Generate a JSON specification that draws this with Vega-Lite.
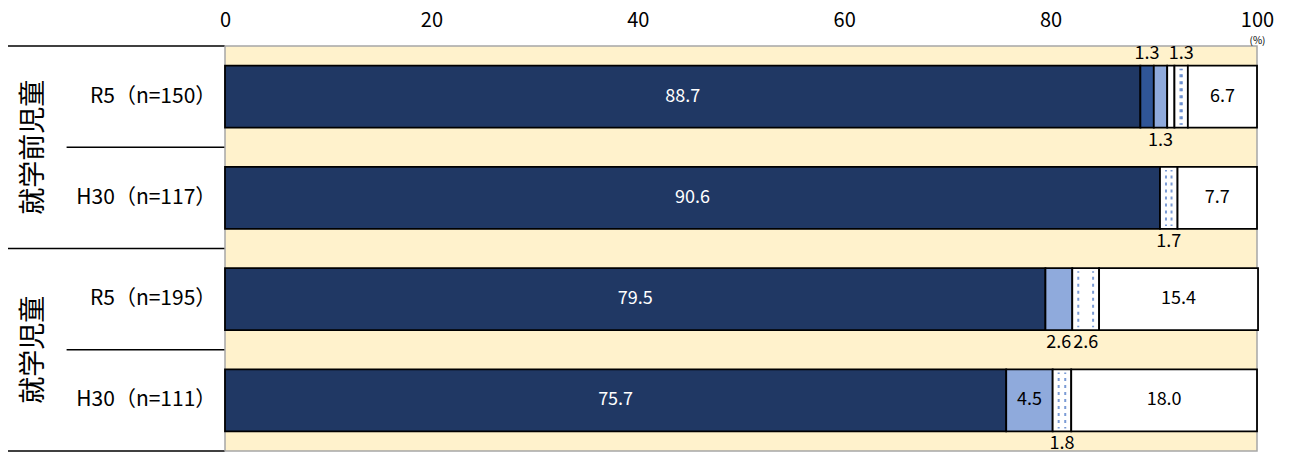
{
  "$schema": "https://vega.github.io/schema/vega-lite/v6.json",
  "autosize": {"type": "pad"},
  "padding": {"left": 7, "top": 9, "right": 0, "bottom": 0},
  "background": "white",
  "bounds": "flush",
  "config": {"font": "Noto Sans CJK JP", "view": {"stroke": null}, "concat": {"spacing": 0}},
  "spacing": 0,
  "datasets": {
    "bars": [
      {"row": "R5（n=150）", "cat": "c1", "value": 88.7},
      {"row": "R5（n=150）", "cat": "c2", "value": 1.3},
      {"row": "R5（n=150）", "cat": "c3", "value": 1.3},
      {"row": "R5（n=150）", "cat": "c4", "value": 0.7},
      {"row": "R5（n=150）", "cat": "c5", "value": 1.3},
      {"row": "R5（n=150）", "cat": "c6", "value": 6.7},
      {"row": "H30（n=117）", "cat": "c1", "value": 90.6},
      {"row": "H30（n=117）", "cat": "c5", "value": 1.7},
      {"row": "H30（n=117）", "cat": "c6", "value": 7.7},
      {"row": "R5（n=195）", "cat": "c1", "value": 79.5},
      {"row": "R5（n=195）", "cat": "c3", "value": 2.6},
      {"row": "R5（n=195）", "cat": "c5", "value": 2.6},
      {"row": "R5（n=195）", "cat": "c6", "value": 15.4},
      {"row": "H30（n=111）", "cat": "c1", "value": 75.7},
      {"row": "H30（n=111）", "cat": "c3", "value": 4.5},
      {"row": "H30（n=111）", "cat": "c5", "value": 1.8},
      {"row": "H30（n=111）", "cat": "c6", "value": 18.0}
    ],
    "rows": [
      {"row": "R5（n=150）", "group": "就学前児童"},
      {"row": "H30（n=117）", "group": "就学前児童"},
      {"row": "R5（n=195）", "group": "就学児童"},
      {"row": "H30（n=111）", "group": "就学児童"}
    ]
  },
  "hconcat": [
    {
      "width": 217,
      "height": 405,
      "data": {"name": "rows"},
      "encoding": {
        "y": {"field": "row", "type": "nominal", "sort": null, "scale": {"paddingInner": 0, "paddingOuter": 0}, "axis": null}
      },
      "layer": [
        {
          "mark": {"type": "text", "align": "right", "baseline": "middle", "fontSize": 21, "color": "black"},
          "encoding": {
            "x": {"datum": 96, "type": "quantitative", "scale": {"domain": [0, 100]}, "axis": null},
            "text": {"field": "row"}
          }
        },
        {
          "transform": [{"filter": "indexof(datum.row, 'R5') == 0"}],
          "mark": {"type": "text", "align": "center", "baseline": "middle", "fontSize": 27, "angle": 270, "color": "black"},
          "encoding": {
            "x": {"datum": 12, "type": "quantitative"},
            "y": {"field": "row", "type": "nominal", "sort": null, "bandPosition": 1},
            "text": {"field": "group"}
          }
        },
        {
          "transform": [{"filter": "indexof(datum.row, 'R5') == 0"}],
          "mark": {"type": "rule", "color": "black", "strokeWidth": 1.5},
          "encoding": {
            "x": {"datum": 0, "type": "quantitative"},
            "x2": {"datum": 100},
            "y": {"field": "row", "type": "nominal", "sort": null, "bandPosition": 0}
          }
        },
        {
          "transform": [{"filter": "indexof(datum.row, 'H30') == 0"}],
          "mark": {"type": "rule", "color": "black", "strokeWidth": 1.5},
          "encoding": {
            "x": {"datum": 27, "type": "quantitative"},
            "x2": {"datum": 100},
            "y": {"field": "row", "type": "nominal", "sort": null, "bandPosition": 0}
          }
        },
        {
          "transform": [{"filter": "datum.row == 'H30（n=111）'"}],
          "mark": {"type": "rule", "color": "black", "strokeWidth": 1.5},
          "encoding": {
            "x": {"datum": 0, "type": "quantitative"},
            "x2": {"datum": 100},
            "y": {"field": "row", "type": "nominal", "sort": null, "bandPosition": 1}
          }
        }
      ]
    },
    {
      "width": 1032,
      "height": 405,
      "view": {"fill": "#FFF2CC", "stroke": "#A6A6A6", "strokeWidth": 1.5},
      "data": {"name": "bars"},
      "transform": [
        {"stack": "value", "groupby": ["row"], "sort": [{"field": "cat", "order": "ascending"}], "as": ["x0", "x1"]}
      ],
      "encoding": {
        "y": {"field": "row", "type": "nominal", "sort": null, "scale": {"paddingInner": 0, "paddingOuter": 0}, "axis": null}
      },
      "layer": [
        {
          "mark": {"type": "bar", "height": {"band": 0.612}, "stroke": "black", "strokeWidth": 1.8},
          "encoding": {
            "x": {
              "field": "x0", "type": "quantitative",
              "scale": {"domain": [0, 100], "nice": false},
              "axis": {
                "orient": "top", "values": [0, 20, 40, 60, 80, 100], "grid": false, "ticks": false, "domain": false,
                "labelFontSize": 20, "labelColor": "black", "labelPadding": 16, "labelFlush": false,
                "title": "(%)", "titleFontSize": 10, "titleFontWeight": "normal", "titleColor": "black",
                "titleX": 1032, "titleY": -6, "titleAlign": "center", "titleBaseline": "middle", "titleAnchor": null
              }
            },
            "x2": {"field": "x1"},
            "color": {
              "field": "cat", "type": "nominal",
              "scale": {"domain": ["c1", "c2", "c3", "c4", "c5", "c6"], "range": ["#203864", "#2F5597", "#8FAADC", "#FFFFFF", "#FFFFFF", "#FFFFFF"]},
              "legend": null
            }
          }
        },
        {
          "transform": [{"filter": "datum.cat == 'c5'"}],
          "mark": {"type": "tick", "orient": "vertical", "thickness": 0, "size": 56, "stroke": "#4472C4", "strokeWidth": 2, "strokeDash": [1.5, 5.5], "xOffset": 6},
          "encoding": {"x": {"field": "x0", "type": "quantitative"}}
        },
        {
          "transform": [{"filter": "datum.cat == 'c5'"}],
          "mark": {"type": "tick", "orient": "vertical", "thickness": 0, "size": 56, "stroke": "#4472C4", "strokeWidth": 2, "strokeDash": [1.5, 5.5], "xOffset": -6},
          "encoding": {"x": {"field": "x1", "type": "quantitative"}}
        },
        {
          "transform": [
            {"fold": ["x0", "x1"], "as": ["edge", "pos"]},
            {"aggregate": [{"op": "mean", "field": "pos", "as": "mid"}, {"op": "max", "field": "value", "as": "value"}], "groupby": ["row", "cat"]}
          ],
          "layer": [
            {
              "transform": [{"filter": "datum.value >= 4"}],
              "mark": {"type": "text", "fontSize": 18, "baseline": "middle", "align": "center"},
              "encoding": {
                "x": {"field": "mid", "type": "quantitative"},
                "text": {"field": "value", "type": "quantitative", "format": ".1f"},
                "color": {"condition": {"test": "datum.cat == 'c1'", "value": "white"}, "value": "black"}
              }
            },
            {
              "transform": [{"filter": "datum.value < 4 && datum.row == 'R5（n=150）' && (datum.cat == 'c2' || datum.cat == 'c5')"}],
              "mark": {"type": "text", "fontSize": 18, "baseline": "middle", "align": "center", "dy": -43, "color": "black"},
              "encoding": {
                "x": {"field": "mid", "type": "quantitative"},
                "text": {"field": "value", "type": "quantitative", "format": ".1f"}
              }
            },
            {
              "transform": [{"filter": "datum.value < 4 && datum.cat != 'c4' && !(datum.row == 'R5（n=150）' && (datum.cat == 'c2' || datum.cat == 'c5'))"}],
              "mark": {"type": "text", "fontSize": 18, "baseline": "middle", "align": "center", "dy": 44, "color": "black"},
              "encoding": {
                "x": {"field": "mid", "type": "quantitative"},
                "text": {"field": "value", "type": "quantitative", "format": ".1f"}
              }
            }
          ]
        },
        {
          "mark": {"type": "rule", "color": "black", "strokeWidth": 1.5},
          "encoding": {"x": {"datum": 0, "type": "quantitative"}}
        }
      ]
    }
  ]
}
